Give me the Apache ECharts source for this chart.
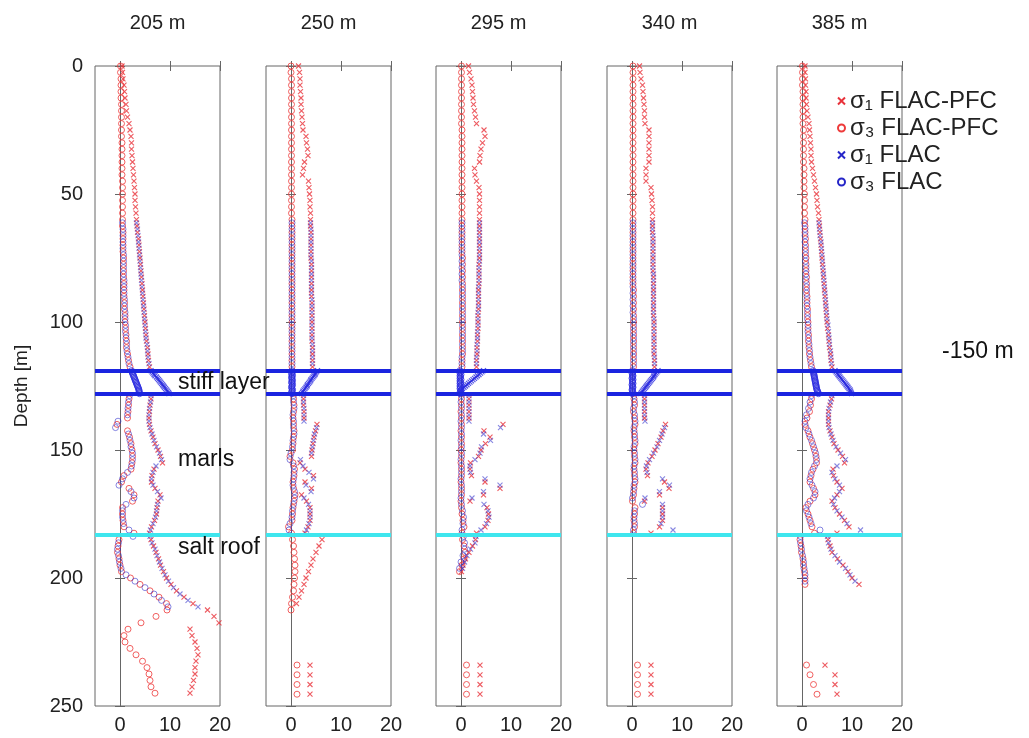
<!DOCTYPE html>
<html><head><meta charset="utf-8">
<script src="https://cdn.jsdelivr.net/npm/echarts@6/dist/echarts.min.js"></script>
<style>html,body{margin:0;padding:0;background:#fff}#c{width:1029px;height:738px}</style>
</head><body><div id="c"></div><script>
// ---------- axes / labels ----------
const PANEL_TITLES = ['205 m', '250 m', '295 m', '340 m', '385 m'];
const X_TICKS = [0, 10, 20];
const Y_TICKS = [0, 50, 100, 150, 200, 250];
const SERIES_NAMES = ['σ₁ FLAC-PFC', 'σ₃ FLAC-PFC', 'σ₁ FLAC', 'σ₃ FLAC'];
const LAYER_DEPTHS = [119, 128];   // stiff layer top / bottom
const SALT_ROOF_DEPTH = [183];
const ANNOTATIONS = ['stiff layer', 'marls', 'salt roof'];
const SIDE_NOTE = '-150 m';

// ---------- depth grids ----------
const DEPTH = [0,2.5,5,7.5,10,12.5,15,17.5,20,22.5,25,27.5,30,32.5,35,37.5,40,42.5,45,47.5,
50,52.5,55,57.5,60,62.5,65,67.5,70,72.5,75,77.5,80,82.5,85,87.5,90,92.5,95,97.5,
100,102.5,105,107.5,110,112.5,115,117.5,120,122.5,125,127.5,130,132.5,135,137.5,140,142.5,145,147.5,
150,152.5,155,157.5,160,162.5,165,167.5,170,172.5,175,177.5,180,182.5,185,187.5,190,192.5,195,197.5,
200,202.5,205,207.5,210,212.5,215,217.5,220,222.5,225,227.5,230,232.5,235,237.5,240,242.5,245,247.5];
const FLAC_DEPTH = [61.25,63.75,66.25,68.75,71.25,73.75,76.25,78.75,81.25,83.75,
86.25,88.75,91.25,93.75,96.25,98.75,101.25,103.75,106.25,108.75,
111.25,113.75,116.25,118.75,121.25,123.75,126.25,128.75,131.25,133.75,
136.25,138.75,141.25,143.75,146.25,148.75,151.25,153.75,156.25,158.75,
161.25,163.75,166.25,168.75,171.25,173.75,176.25,178.75,181.25,183.75,
186.25,188.75,191.25,193.75,196.25,198.75,201.25,203.75,206.25,208.75,211.25];
const STIFF_DEPTH = [119,119.5,120,120.5,121,121.5,122,122.5,123,123.5,124,124.5,125,125.5,126,126.5,127,127.5,128];
const BOTTOM_DEPTH = [234, 237.8, 241.6, 245.4];
const N = null;

// ---------- panel 1 (205 m) ----------
const P1_S1_PFC = [0.4,0.5,0.6,0.8,0.9,1.0,1.2,1.3,1.5,1.8, 2.0,2.2,2.3,2.3,2.4,2.5,2.6,2.7,2.8,2.9,
3.0,3.0,3.1,3.2,3.3,3.4,3.5,3.7,3.8,3.9, 4.0,4.1,4.2,4.3,4.4,4.5,4.6,4.7,4.8,4.9,
5.0,5.1,5.2,5.3,5.5,5.6,5.7,5.9,N,N, N,N,6.2,6.0,5.9,5.8,5.9,6.2,6.6,7.0,
7.6,8.1,8.5,6.8,6.4,6.3,7.0,8.0,7.6,7.4, 7.3,6.9,6.3,5.9,6.2,6.7,7.2,7.7,8.1,8.7,
9.3,10.2,11.3,12.8,14.6,17.5,18.8,19.8,14.0,14.4, 15.0,15.4,15.6,15.2,15.0,15.0,14.7,14.4,14.0,N];
const P1_S3_PFC = [0.1,0.1,0.2,0.2,0.2,0.2,0.3,0.3,0.3,0.3, 0.3,0.3,0.4,0.4,0.4,0.4,0.4,0.4,0.5,0.5,
0.5,0.5,0.5,0.5,0.5,0.5,0.6,0.6,0.6,0.6, 0.7,0.7,0.7,0.7,0.8,0.8,0.8,0.9,0.9,1.0,
1.0,1.1,1.2,1.3,1.3,1.5,1.7,2.0,N,N, N,N,1.8,1.7,1.6,1.5,-0.6,1.5,1.9,2.2,
2.4,2.5,2.4,2.2,0.8,0.3,1.8,2.8,2.5,0.5, 0.5,0.6,0.8,2.8,-0.2,-0.4,-0.5,-0.2,0.0,0.3,
2.1,4.0,6.0,7.8,9.3,9.4,7.2,4.2,1.6,0.8, 1.0,2.0,3.2,4.5,5.4,5.8,6.0,6.2,7.0,N];
const P1_S1_FLAC = [3.3,3.5,3.6,3.7,3.8,3.9,4.0,4.1,4.2,4.3, 4.4,4.5,4.6,4.7,4.8,4.9,5.0,5.1,5.2,5.4,
5.5,5.6,5.8,N,N,N,N,6.2,6.1,5.9, 5.8,5.8,6.0,6.4,6.8,7.3,7.9,8.3,7.2,6.6,
6.3,6.6,7.5,8.2,7.5,7.3,7.1,6.6,6.1,6.0, 6.4,7.0,7.4,7.9,8.4,9.0,9.7,10.7,12.0,13.6, 15.6];
const P1_S3_FLAC = [0.5,0.6,0.6,0.6,0.6,0.7,0.7,0.7,0.7,0.8, 0.8,0.8,0.9,0.9,1.0,1.0,1.1,1.1,1.2,1.3,
1.4,1.6,1.8,N,N,N,N,1.9,1.7,1.6, 1.5,-0.4,-0.9,1.7,2.0,2.2,2.5,2.5,2.3,1.5,
0.5,-0.2,2.2,2.8,1.2,0.5,0.5,0.7,1.8,2.6, -0.3,-0.5,-0.3,-0.1,0.2,1.2,3.0,5.0,6.8,8.3, 9.6];
const P1_S1_STIFF = [6.2,6.4,6.6,6.8,7.0,7.3,7.5,7.7,7.9,8.1,8.3,8.5,8.7,8.9,9.1,9.3,9.5,9.7,9.8];
const P1_S3_STIFF = [2.3,2.4,2.5,2.6,2.7,2.8,2.9,3.0,3.1,3.2,3.3,3.4,3.5,3.6,3.7,3.8,3.8,3.9,3.9];
const P1_S1_BOT = [];
const P1_S3_BOT = [];

// ---------- panel 2 (250 m) ----------
const P2_S1_PFC = [1.5,1.7,1.8,1.8,1.9,2.0,2.0,2.1,2.2,2.3, 2.4,3.0,3.1,3.3,3.4,2.7,2.5,2.3,3.5,3.6,
3.7,3.8,3.8,3.9,3.9,3.9,4.0,4.0,4.0,4.0, 4.0,4.1,4.1,4.1,4.1,4.1,4.1,4.2,4.2,4.2,
4.2,4.2,4.2,4.2,4.3,4.3,4.3,4.3,N,N, N,N,2.5,2.5,2.6,2.6,5.2,4.9,4.6,4.4,
4.2,4.1,1.8,2.8,4.5,2.8,4.1,2.1,3.1,3.8, 3.8,3.8,3.4,2.8,6.2,5.6,5.0,4.4,4.0,3.5,
3.0,2.6,2.1,1.6,1.1,N,N,N,N,N, N,N,N,N,N,N,N,N,N,N];
const P2_S3_PFC = [0.0,0.0,0.1,0.1,0.1,0.1,0.1,0.1,0.1,0.1, 0.1,0.1,0.1,0.1,0.1,0.1,0.1,0.1,0.1,0.1,
0.1,0.1,0.1,0.1,0.2,0.2,0.2,0.2,0.2,0.2, 0.2,0.2,0.2,0.2,0.2,0.2,0.2,0.2,0.2,0.2,
0.2,0.2,0.2,0.2,0.2,0.2,0.2,0.2,N,N, N,N,0.5,0.6,0.5,0.4,0.5,0.6,0.5,0.4,
0.3,-0.2,0.4,0.7,0.6,0.4,0.5,0.8,0.6,0.4, 0.3,0.2,-0.5,0.1,0.3,0.5,0.6,0.7,0.8,0.8,
0.7,0.6,0.5,0.3,0.1,0.0,N,N,N,N, N,N,N,N,N,N,N,N,N,N];
const P2_S1_FLAC = [3.9,4.0,4.0,4.0,4.0,4.0,4.1,4.1,4.1,4.1, 4.1,4.1,4.2,4.2,4.2,4.2,4.2,4.2,4.2,4.3,
4.3,4.3,4.3,N,N,N,N,2.5,2.5,2.6, 2.6,2.6,5.1,4.7,4.5,4.3,4.1,1.9,2.4,3.6,
4.5,3.0,4.0,2.6,3.5,3.8,3.8,3.6,3.1,N, N,N,N,N,N,N,N,N,N,N, N];
const P2_S3_FLAC = [0.2,0.2,0.2,0.2,0.2,0.2,0.2,0.2,0.2,0.2, 0.2,0.2,0.2,0.2,0.2,0.2,0.2,0.2,0.2,0.2,
0.2,0.2,0.2,N,N,N,N,0.5,0.5,0.6, 0.4,0.5,0.5,0.6,0.4,0.3,0.0,-0.2,0.5,0.6,
0.5,0.4,0.7,0.7,0.5,0.3,0.2,-0.2,-0.4,N, N,N,N,N,N,N,N,N,N,N, N];
const P2_S1_STIFF = [5.3,5.1,4.9,4.8,4.6,4.4,4.2,4.0,3.9,3.7,3.5,3.3,3.2,3.0,2.8,2.6,2.4,2.3,2.1];
const P2_S3_STIFF = [0.2,0.3,0.1,0.2,0.3,0.1,0.2,0.2,0.3,0.1,0.2,0.3,0.2,0.1,0.2,0.3,0.2,0.1,0.2];
const P2_S1_BOT = [3.8,3.8,3.8,3.8];
const P2_S3_BOT = [1.2,1.2,1.2,1.2];

// ---------- panel 3 (295 m) ----------
const P3_S1_PFC = [1.5,1.7,2.0,2.2,2.3,2.4,2.5,2.7,2.9,3.1, 4.6,4.8,4.3,4.0,3.8,3.7,2.7,2.8,3.1,3.6,
3.7,3.7,3.7,3.7,3.7,3.7,3.7,3.7,3.7,3.7, 3.7,3.6,3.6,3.6,3.6,3.5,3.5,3.5,3.5,3.4,
3.4,3.4,3.3,3.3,3.2,3.2,3.1,3.1,N,N, N,N,1.6,1.6,1.6,1.6,8.4,4.6,5.8,4.9,
4.0,3.5,1.9,1.8,2.1,4.8,7.8,4.5,1.8,5.2, 5.5,5.4,4.8,3.1,2.9,2.3,1.6,0.9,0.4,0.1,
N,N,N,N,N,N,N,N,N,N, N,N,N,N,N,N,N,N,N,N];
const P3_S3_PFC = [0.1,0.1,0.1,0.1,0.1,0.1,0.1,0.1,0.1,0.1, 0.2,0.2,0.2,0.2,0.2,0.2,0.2,0.2,0.2,0.2,
0.2,0.2,0.2,0.2,0.2,0.2,0.2,0.2,0.2,0.2, 0.3,0.3,0.3,0.3,0.3,0.3,0.3,0.3,0.3,0.3,
0.3,0.3,0.3,0.3,0.3,0.3,0.2,0.2,N,N, N,N,0.1,0.1,0.0,0.1,0.1,0.0,0.1,0.1,
0.0,0.1,0.0,0.1,0.1,0.0,0.1,0.1,0.0,0.1, 0.2,0.4,0.6,0.2,0.3,0.6,0.8,0.6,0.2,-0.3,
N,N,N,N,N,N,N,N,N,N, N,N,N,N,N,N,N,N,N,N];
const P3_S1_FLAC = [3.7,3.7,3.7,3.7,3.7,3.7,3.7,3.6,3.6,3.6, 3.5,3.5,3.5,3.5,3.4,3.4,3.4,3.3,3.3,3.2,
3.2,3.1,3.1,N,N,N,N,1.6,1.6,1.6, 1.6,1.6,7.9,4.5,5.9,4.1,3.8,2.8,1.8,1.9,
4.8,7.8,4.5,2.2,4.6,5.4,5.6,5.1,4.0,3.0, 2.8,1.9,1.2,0.7,0.3,N,N,N,N,N, N];
const P3_S3_FLAC = [0.2,0.2,0.2,0.2,0.2,0.2,0.2,0.2,0.2,0.2, 0.3,0.3,0.3,0.3,0.3,0.3,0.3,0.3,0.3,0.3,
0.3,0.2,0.2,N,N,N,N,0.1,0.0,0.1, 0.1,0.0,0.1,0.1,0.0,0.1,0.1,0.0,0.1,0.1,
0.0,0.1,0.1,0.0,0.1,0.3,0.5,0.4,0.2,0.5, 0.7,0.7,0.4,0.0,-0.3,N,N,N,N,N, N];
const P3_S1_STIFF = [4.5,4.2,3.9,3.6,3.3,3.0,2.7,2.4,2.1,1.8,1.5,1.2,0.9,0.6,0.3,0.1,0.0,0.0,0.0];
const P3_S3_STIFF = [-0.2,-0.1,-0.2,0.0,-0.2,-0.1,-0.2,0.0,-0.2,-0.1,-0.2,0.0,-0.2,-0.1,-0.2,0.0,-0.1,-0.2,-0.1];
const P3_S1_BOT = [3.8,3.8,3.8,3.8];
const P3_S3_BOT = [1.1,1.1,1.1,1.1];

// ---------- panel 4 (340 m) ----------
const P4_S1_PFC = [1.5,1.6,1.8,2.1,2.2,2.3,2.4,2.5,2.5,2.6, 3.4,3.4,3.4,3.4,3.4,3.4,2.8,2.8,2.8,3.8,
3.9,4.0,4.1,4.1,4.1,4.1,4.1,4.2,4.2,4.2, 4.2,4.2,4.2,4.3,4.3,4.3,4.3,4.3,4.3,4.3,
4.4,4.4,4.4,4.4,4.4,4.4,4.5,4.5,N,N, N,N,2.5,2.5,2.5,2.5,6.7,6.2,5.8,5.2,
4.6,4.0,3.2,2.8,3.1,6.5,7.4,5.5,2.5,6.1, 6.1,6.1,5.5,3.8,N,N,N,N,N,N,
N,N,N,N,N,N,N,N,N,N, N,N,N,N,N,N,N,N,N,N];
const P4_S3_PFC = [0.2,0.2,0.2,0.2,0.2,0.2,0.2,0.2,0.2,0.2, 0.2,0.2,0.2,0.2,0.2,0.2,0.2,0.2,0.2,0.2,
0.2,0.2,0.2,0.2,0.2,0.2,0.2,0.2,0.2,0.2, 0.2,0.2,0.2,0.2,0.2,0.3,0.3,0.3,0.3,0.3,
0.3,0.3,0.3,0.3,0.3,0.3,0.3,0.3,N,N, N,N,0.4,0.5,0.3,0.5,0.6,0.4,0.5,0.6,
0.4,0.5,0.6,0.4,0.5,0.6,0.4,0.3,0.1,0.6, 0.5,0.4,0.5,0.3,N,N,N,N,N,N,
N,N,N,N,N,N,N,N,N,N, N,N,N,N,N,N,N,N,N,N];
const P4_S1_FLAC = [4.1,4.1,4.2,4.2,4.2,4.2,4.2,4.2,4.3,4.3, 4.3,4.3,4.3,4.3,4.3,4.4,4.4,4.4,4.4,4.4,
4.4,4.5,4.5,N,N,N,N,2.5,2.5,2.5, 2.5,2.6,6.5,6.0,5.5,5.0,4.3,3.5,2.9,3.0,
6.1,7.5,5.5,2.6,6.1,6.1,6.1,5.8,8.2,N, N,N,N,N,N,N,N,N,N,N, N];
const P4_S3_FLAC = [0.2,0.2,0.2,0.2,0.2,0.2,0.2,0.2,0.2,0.2, 0.2,0.2,0.2,0.2,0.2,0.3,0.3,0.3,0.3,0.3,
0.3,0.3,0.3,N,N,N,N,0.4,0.5,0.3, 0.5,0.6,0.4,0.5,0.6,0.4,0.5,0.6,0.4,0.5,
0.6,0.4,0.3,0.1,2.1,0.5,0.4,0.5,0.3,N, N,N,N,N,N,N,N,N,N,N, N];
const P4_S1_STIFF = [5.2,5.0,4.8,4.6,4.4,4.3,4.1,3.9,3.7,3.5,3.3,3.1,2.9,2.7,2.5,2.3,2.1,1.9,1.8];
const P4_S3_STIFF = [0.1,0.2,0.0,0.1,0.2,0.1,0.0,0.2,0.1,0.1,0.2,0.0,0.1,0.2,0.1,0.0,0.1,0.2,0.1];
const P4_S1_BOT = [3.8,3.8,3.8,3.8];
const P4_S3_BOT = [1.1,1.1,1.1,1.1];

// ---------- panel 5 (385 m) ----------
const P5_S1_PFC = [0.6,0.6,0.7,0.7,0.8,0.8,0.9,1.0,1.2,1.4, 1.5,1.6,1.7,1.8,1.8,1.9,2.1,2.3,2.5,2.7,
2.9,3.0,3.1,3.3,3.4,3.5,3.6,3.7,3.8,3.9, 4.0,4.1,4.2,4.3,4.4,4.5,4.6,4.7,4.8,4.9,
5.0,5.1,5.3,5.4,5.5,5.7,5.8,6.0,N,N, N,N,5.9,5.6,5.3,5.3,5.3,5.6,6.0,6.4,
7.2,8.1,8.5,6.2,6.3,7.0,8.0,7.0,6.0,6.6, 7.5,8.5,9.4,7.0,5.2,5.6,6.0,7.1,8.2,9.2,
10.0,11.4,N,N,N,N,N,N,N,N, N,N,N,N,N,N,N,N,N,N];
const P5_S3_PFC = [0.1,0.1,0.1,0.1,0.2,0.2,0.2,0.2,0.2,0.2, 0.3,0.3,0.3,0.3,0.3,0.3,0.4,0.4,0.4,0.4,
0.5,0.5,0.5,0.5,0.6,0.6,0.6,0.7,0.7,0.7, 0.8,0.8,0.8,0.9,0.9,0.9,1.0,1.0,1.1,1.1,
1.2,1.2,1.3,1.3,1.4,1.5,1.7,1.9,N,N, N,N,1.9,1.7,1.5,1.0,0.6,1.2,1.6,2.1,
2.5,2.8,2.9,2.2,1.8,1.6,2.3,2.6,1.6,0.8, 1.2,1.6,2.0,2.5,-0.4,-0.2,-0.1,0.2,0.3,0.5,
0.6,0.6,N,N,N,N,N,N,N,N, N,N,N,N,N,N,N,N,N,N];
const P5_S1_FLAC = [3.4,3.5,3.6,3.8,3.9,4.0,4.1,4.2,4.3,4.4, 4.5,4.6,4.7,4.8,4.9,5.0,5.2,5.3,5.4,5.5,
5.7,5.8,5.9,N,N,N,N,6.0,5.7,5.4, 5.3,5.3,5.4,5.8,6.2,6.8,7.7,8.7,7.0,6.0,
6.6,7.5,7.5,6.5,6.3,7.0,8.0,9.0,11.7,5.1, 5.3,5.8,6.6,7.5,8.7,9.6,10.6,N,N,N, N];
const P5_S3_FLAC = [0.5,0.6,0.6,0.6,0.7,0.7,0.7,0.8,0.8,0.8, 0.9,0.9,1.0,1.0,1.1,1.1,1.2,1.2,1.3,1.4,
1.5,1.6,1.8,N,N,N,N,1.9,1.6,1.3, 0.9,0.6,0.8,1.4,1.9,2.3,2.7,2.9,2.5,1.9,
1.6,2.0,2.6,2.3,1.2,0.9,1.4,1.8,3.6,-0.3, -0.3,-0.1,0.1,0.3,0.4,0.6,0.6,N,N,N, N];
const P5_S1_STIFF = [6.6,6.8,7.0,7.2,7.4,7.6,7.8,8.0,8.2,8.4,8.6,8.8,9.0,9.2,9.4,9.6,9.7,9.8,9.9];
const P5_S3_STIFF = [2.2,2.3,2.3,2.4,2.4,2.5,2.5,2.6,2.6,2.7,2.7,2.8,2.8,2.9,2.9,3.0,3.1,3.2,3.3];
const P5_S1_BOT = [4.6,6.6,6.6,7.0];
const P5_S3_BOT = [0.9,1.6,2.3,3.0];

// ---------- build ----------
const PANELS = [
  [P1_S1_PFC, P1_S3_PFC, P1_S1_FLAC, P1_S3_FLAC, P1_S1_STIFF, P1_S3_STIFF, P1_S1_BOT, P1_S3_BOT],
  [P2_S1_PFC, P2_S3_PFC, P2_S1_FLAC, P2_S3_FLAC, P2_S1_STIFF, P2_S3_STIFF, P2_S1_BOT, P2_S3_BOT],
  [P3_S1_PFC, P3_S3_PFC, P3_S1_FLAC, P3_S3_FLAC, P3_S1_STIFF, P3_S3_STIFF, P3_S1_BOT, P3_S3_BOT],
  [P4_S1_PFC, P4_S3_PFC, P4_S1_FLAC, P4_S3_FLAC, P4_S1_STIFF, P4_S3_STIFF, P4_S1_BOT, P4_S3_BOT],
  [P5_S1_PFC, P5_S3_PFC, P5_S1_FLAC, P5_S3_FLAC, P5_S1_STIFF, P5_S3_STIFF, P5_S1_BOT, P5_S3_BOT]
];

function pts(xs, ds) {
  const out = [];
  xs.forEach((v, i) => { if (v !== null && v !== undefined) out.push([v, ds[i]]); });
  return out;
}

const LEFTS = [95, 266, 436, 607, 777];
const GW = 125, GT = 66, GH = 640;
const RED = '#e8323a', RED_O = '#ee3b3b', BLUE = '#2626c8', BLUE_STIFF = '#2a2ae0', BLUE_LINE = '#1a24e0', CYAN = '#3ee6ee';
const CROSS = 'path://M0,0L10,10M10,0L0,10';
const FONT = '"Liberation Sans", Arial, sans-serif';

const grids = [], xAxes = [], yAxes = [], series = [], graphics = [];
PANELS.forEach((p, i) => {
  grids.push({left: LEFTS[i], top: GT, width: GW, height: GH, show: true, borderColor: '#666', borderWidth: 1, backgroundColor: 'transparent'});
  const xb = {gridIndex: i, type: 'value', min: -5, max: 20, position: 'bottom',
    axisLine: {show: false}, splitLine: {show: false},
    axisTick: {show: true, inside: true, length: 5, customValues: X_TICKS, lineStyle: {color: '#666'}},
    axisLabel: {show: true, customValues: X_TICKS, fontSize: 20, fontFamily: FONT, color: '#222', margin: 9}};
  const xt = {gridIndex: i, type: 'value', min: -5, max: 20, position: 'top',
    axisLine: {show: false}, splitLine: {show: false},
    axisTick: {show: true, inside: true, length: 5, customValues: X_TICKS, lineStyle: {color: '#666'}},
    axisLabel: {show: false}};
  xAxes.push(xb, xt);
  const yl = {gridIndex: i, type: 'value', inverse: true, min: 0, max: 250, position: 'left',
    axisLine: {show: false}, splitLine: {show: false},
    axisTick: {show: true, inside: true, length: 5, customValues: Y_TICKS, lineStyle: {color: '#666'}},
    axisLabel: {show: i === 0, customValues: Y_TICKS, fontSize: 20, fontFamily: FONT, color: '#222', margin: 12}};
  if (i === 0) {
    yl.name = 'Depth [m]'; yl.nameLocation = 'middle'; yl.nameGap = 64;
    yl.nameTextStyle = {fontSize: 19, fontFamily: FONT, color: '#222'};
  }
  const yr = {gridIndex: i, type: 'value', inverse: true, min: 0, max: 250, position: 'right',
    axisLine: {show: false}, splitLine: {show: false},
    axisTick: {show: true, inside: true, length: 5, customValues: Y_TICKS, lineStyle: {color: '#666'}},
    axisLabel: {show: false}};
  yAxes.push(yl, yr);

  const xi = 2 * i, yi = 2 * i;
  const [s1p, s3p, s1f, s3f, s1s, s3s, s1b, s3b] = p;
  const base = {type: 'scatter', xAxisIndex: xi, yAxisIndex: yi, silent: true, animation: false};
  series.push(Object.assign({}, base, {
    name: SERIES_NAMES[0], symbol: CROSS, symbolSize: 5,
    itemStyle: {color: 'rgba(0,0,0,0)', borderColor: RED, borderWidth: 1.1},
    data: pts(s1p, DEPTH).concat(pts(s1b, BOTTOM_DEPTH)),
    markLine: {silent: true, symbol: 'none', z: 1, label: {show: false}, animation: false,
      lineStyle: {color: '#666', width: 1, type: 'solid'}, data: [{xAxis: 0}]}
  }));
  series.push(Object.assign({}, base, {
    name: SERIES_NAMES[1], symbol: 'circle', symbolSize: 6,
    itemStyle: {color: 'rgba(0,0,0,0)', borderColor: RED_O, borderWidth: 1},
    data: pts(s3p, DEPTH).concat(pts(s3b, BOTTOM_DEPTH))
  }));
  series.push(Object.assign({}, base, {
    name: SERIES_NAMES[2], symbol: CROSS, symbolSize: 5,
    itemStyle: {color: 'rgba(0,0,0,0)', borderColor: BLUE, borderWidth: 1.1, opacity: 0.55},
    data: pts(s1f, FLAC_DEPTH)
  }));
  series.push(Object.assign({}, base, {
    name: SERIES_NAMES[3], symbol: 'circle', symbolSize: 6,
    itemStyle: {color: 'rgba(0,0,0,0)', borderColor: BLUE, borderWidth: 1, opacity: 0.55},
    data: pts(s3f, FLAC_DEPTH)
  }));
  // stiff-layer FLAC results (dense, fully blue)
  series.push(Object.assign({}, base, {
    name: SERIES_NAMES[2], symbol: CROSS, symbolSize: 5,
    itemStyle: {color: 'rgba(0,0,0,0)', borderColor: BLUE_STIFF, borderWidth: 1.2},
    data: pts(s1s, STIFF_DEPTH)
  }));
  series.push(Object.assign({}, base, {
    name: SERIES_NAMES[3], symbol: 'circle', symbolSize: 6,
    itemStyle: {color: 'rgba(0,0,0,0)', borderColor: BLUE_STIFF, borderWidth: 1},
    data: pts(s3s, STIFF_DEPTH),
    markLine: {silent: true, symbol: 'none', z: 5, label: {show: false}, animation: false,
      data: LAYER_DEPTHS.map(d => ({yAxis: d, lineStyle: {color: BLUE_LINE, width: 4, type: 'solid'}}))
        .concat(SALT_ROOF_DEPTH.map(d => ({yAxis: d, lineStyle: {color: CYAN, width: 4, type: 'solid'}})))}
  }));

  graphics.push({type: 'text', x: LEFTS[i] + GW / 2, y: 23, silent: true,
    style: {text: PANEL_TITLES[i], font: '20px "Liberation Sans Narrow", "Liberation Sans", sans-serif', fill: '#222', align: 'center', verticalAlign: 'middle'}});
});

const annY = [383, 460, 548];
ANNOTATIONS.forEach((t, k) => {
  graphics.push({type: 'text', x: 178, y: annY[k], silent: true, z: 10,
    style: {text: t, font: '23px ' + FONT, fill: '#111', align: 'left', verticalAlign: 'middle'}});
});
graphics.push({type: 'text', x: 942, y: 352, silent: true,
  style: {text: SIDE_NOTE, font: '23px ' + FONT, fill: '#111', align: 'left', verticalAlign: 'middle'}});

const chart = echarts.init(document.getElementById('c'), null, {renderer: 'canvas'});
chart.setOption({
  animation: false,
  backgroundColor: '#fff',
  grid: grids, xAxis: xAxes, yAxis: yAxes, series: series, graphic: graphics,
  legend: {data: SERIES_NAMES, orient: 'vertical', left: 832, top: 84, itemWidth: 7, itemHeight: 7,
    itemGap: 3, selectedMode: false, itemStyle: {opacity: 1},
    textStyle: {fontSize: 24, fontFamily: FONT, color: '#222'}}
});
</script></body></html>
